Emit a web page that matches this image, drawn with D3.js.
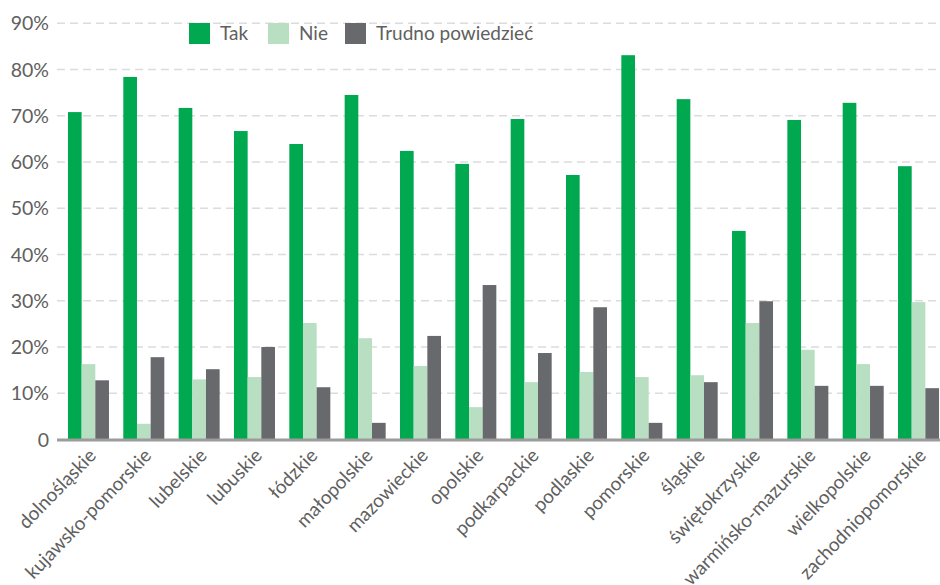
<!DOCTYPE html>
<html>
<head>
<meta charset="utf-8">
<script src="https://cdn.jsdelivr.net/npm/d3@7"></script>
<style>
  html, body { margin: 0; padding: 0; background: #fff; }
  svg { display: block; font-family: Lato, "Open Sans", sans-serif; }
</style>
</head>
<body>
<svg id="chart" width="940" height="585"></svg>
<script>
// Voivodeships and the share of answers in each (percent)
const regions = ["dolnośląskie", "kujawsko-pomorskie", "lubelskie", "lubuskie", "łódzkie",
  "małopolskie", "mazowieckie", "opolskie", "podkarpackie", "podlaskie", "pomorskie",
  "śląskie", "świętokrzyskie", "warmińsko-mazurskie", "wielkopolskie", "zachodniopomorskie"];
const tak    = [70.8, 78.4, 71.7, 66.7, 63.9, 74.5, 62.4, 59.6, 69.3, 57.2, 83.1, 73.6, 45.1, 69.1, 72.8, 59.1];
const nie    = [16.3, 3.4, 13.0, 13.5, 25.2, 21.9, 15.9, 7.0, 12.4, 14.6, 13.5, 13.9, 25.2, 19.4, 16.3, 29.7];
const trudno = [12.8, 17.8, 15.2, 20.0, 11.3, 3.6, 22.4, 33.4, 18.7, 28.6, 3.6, 12.4, 29.9, 11.6, 11.6, 11.1];
const seriesNames = ["Tak", "Nie", "Trudno powiedzieć"];
const yTicks = [0, 10, 20, 30, 40, 50, 60, 70, 80, 90];

const colors = ["#00a84f", "#b8dfc2", "#68696d"];
const seriesValues = [tak, nie, trudno];

const svg = d3.select("#chart");
const W = 940;

const y = d3.scaleLinear().domain([0, 90]).range([439.5, 23.3]);
const x0 = d3.scaleBand().domain(regions).range([60.8, 946.2]).paddingInner(0.259).paddingOuter(0.1295);
const x1 = d3.scaleBand().domain(seriesNames).range([0, x0.bandwidth()]);

// Dashed horizontal gridlines
svg.append("g").selectAll("line")
  .data(yTicks.filter(d => d > 0))
  .join("line")
  .attr("x1", 57).attr("x2", W)
  .attr("y1", d => y(d)).attr("y2", d => y(d))
  .attr("stroke", "#dcdcdc")
  .attr("stroke-width", 1.6)
  .attr("stroke-dasharray", "8,5");

// Y axis labels
const yAxis = d3.axisLeft(y).tickValues(yTicks)
  .tickFormat(d => d === 0 ? "0" : d + "%").tickSize(0).tickPadding(0);
const yg = svg.append("g").attr("transform", "translate(49,0)").call(yAxis);
yg.select(".domain").remove();
yg.selectAll("text")
  .attr("fill", "#606060")
  .attr("font-size", 19.5)
  .attr("font-family", "Lato, sans-serif")
  .attr("dy", "0.34em");

// Bars
const rows = regions.map((r, i) => ({ region: r, values: seriesNames.map((s, j) => ({ s, v: seriesValues[j][i], c: colors[j] })) }));
svg.append("g").selectAll("g")
  .data(rows)
  .join("g")
  .attr("transform", d => `translate(${x0(d.region)},0)`)
  .selectAll("rect")
  .data(d => d.values)
  .join("rect")
  .attr("x", d => x1(d.s))
  .attr("width", x1.bandwidth())
  .attr("y", d => y(d.v))
  .attr("height", d => y(0) - y(d.v))
  .attr("fill", d => d.c);

// Baseline
svg.append("line")
  .attr("x1", 57).attr("x2", W)
  .attr("y1", y(0) + 0.5).attr("y2", y(0) + 0.5)
  .attr("stroke", "#9c9c9c")
  .attr("stroke-width", 3);

// Rotated category labels
svg.append("g").selectAll("text")
  .data(regions)
  .join("text")
  .attr("transform", d => `translate(${x0(d) + x0.bandwidth() / 2 + 4},${452}) rotate(-46)`)
  .attr("text-anchor", "end")
  .attr("dy", "0.35em")
  .attr("fill", "#606060")
  .attr("font-size", 19)
  .text(d => d);

// Legend
const legendX = [189, 268, 345];
const lg = svg.append("g");
seriesNames.forEach((s, i) => {
  lg.append("rect")
    .attr("x", legendX[i]).attr("y", 23)
    .attr("width", 21).attr("height", 21)
    .attr("fill", colors[i]);
  lg.append("text")
    .attr("x", legendX[i] + 31).attr("y", 40)
    .attr("fill", "#606060")
    .attr("font-size", 19)
    .text(s);
});
</script>
</body>
</html>
